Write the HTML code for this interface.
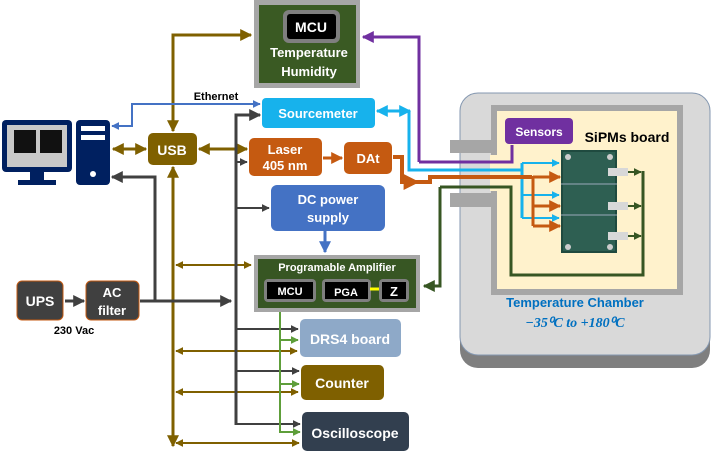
<!DOCTYPE html>
<html><head><meta charset="utf-8"><style>
body{margin:0;background:#fff}
svg{display:block}
text{font-family:"Liberation Sans",sans-serif;font-weight:bold}
</style></head><body>
<svg width="714" height="458" viewBox="0 0 714 458" xmlns="http://www.w3.org/2000/svg">
<defs>
<marker id="ab" viewBox="0 0 10 10" refX="9" refY="5" markerWidth="4" markerHeight="4" orient="auto-start-reverse"><path d="M0,0L10,5L0,10z" fill="#7f6000"/></marker>
<marker id="ag" viewBox="0 0 10 10" refX="9" refY="5" markerWidth="4" markerHeight="4" orient="auto-start-reverse"><path d="M0,0L10,5L0,10z" fill="#404040"/></marker>
<marker id="ablu" viewBox="0 0 10 10" refX="9" refY="5" markerWidth="4" markerHeight="4" orient="auto-start-reverse"><path d="M0,0L10,5L0,10z" fill="#4472c4"/></marker>
<marker id="ac" viewBox="0 0 10 10" refX="9" refY="5" markerWidth="4" markerHeight="4" orient="auto-start-reverse"><path d="M0,0L10,5L0,10z" fill="#17b2ec"/></marker>
<marker id="ao" viewBox="0 0 10 10" refX="9" refY="5" markerWidth="4" markerHeight="4" orient="auto-start-reverse"><path d="M0,0L10,5L0,10z" fill="#c55a11"/></marker>
<marker id="adg" viewBox="0 0 10 10" refX="9" refY="5" markerWidth="4" markerHeight="4" orient="auto-start-reverse"><path d="M0,0L10,5L0,10z" fill="#375623"/></marker>
<marker id="alg" viewBox="0 0 10 10" refX="9" refY="5" markerWidth="4" markerHeight="4" orient="auto-start-reverse"><path d="M0,0L10,5L0,10z" fill="#5e9e3a"/></marker>
<marker id="ap" viewBox="0 0 10 10" refX="9" refY="5" markerWidth="4" markerHeight="4" orient="auto-start-reverse"><path d="M0,0L10,5L0,10z" fill="#7030a0"/></marker>
</defs>

<!-- Temperature chamber -->
<rect x="460" y="106" width="250" height="262" rx="18" fill="#7f7f7f"/>
<rect x="460" y="93" width="250" height="262" rx="18" fill="#d9d9d9" stroke="#8497b0" stroke-width="1"/>
<rect x="494" y="108" width="186" height="184" fill="#fff2cc" stroke="#a6a6a6" stroke-width="6"/>
<rect x="450" y="140" width="47" height="13" fill="#a6a6a6"/>
<rect x="450" y="193" width="47" height="14" fill="#a6a6a6"/>
<rect x="490" y="155" width="8" height="36" fill="#fff2cc"/>
<text x="575" y="307" font-size="13" fill="#0070c0" text-anchor="middle">Temperature Chamber</text>
<text x="575" y="327" font-size="14" fill="#0070c0" text-anchor="middle" style="font-family:'Liberation Serif',serif;font-style:italic">−35⁰C to +180⁰C</text>
<rect x="505" y="118" width="68" height="26" rx="4" fill="#7030a0"/>
<text x="539" y="136" font-size="12" fill="#fff" text-anchor="middle">Sensors</text>
<text x="627" y="142" font-size="14" fill="#000" text-anchor="middle">SiPMs board</text>
<!-- PCB -->
<rect x="561" y="150" width="56" height="103" fill="#1f4a3f"/>
<rect x="563" y="152" width="52" height="99" fill="#2e5f52"/>
<line x1="561" y1="184" x2="617" y2="184" stroke="#9ab" stroke-width="1"/>
<line x1="561" y1="215" x2="617" y2="215" stroke="#9ab" stroke-width="1"/>
<circle cx="568" cy="157" r="3" fill="#ccc"/><circle cx="610" cy="157" r="3" fill="#ccc"/><circle cx="568" cy="247" r="3" fill="#ccc"/><circle cx="610" cy="247" r="3" fill="#ccc"/>
<rect x="608" y="168" width="20" height="8" fill="#d8d8d8"/>
<rect x="608" y="202" width="20" height="8" fill="#d8d8d8"/>
<rect x="608" y="232" width="20" height="8" fill="#d8d8d8"/>

<!-- Top temperature box -->
<rect x="254" y="0" width="106" height="88" fill="#a6a6a6"/>
<rect x="259" y="5" width="97" height="78" fill="#3a5a23"/>
<rect x="283" y="10" width="57" height="33" rx="6" fill="#7f7f7f"/>
<rect x="287" y="14" width="49" height="25" rx="3" fill="#000"/>
<text x="311" y="32" font-size="14" fill="#fff" text-anchor="middle">MCU</text>
<text x="309" y="57" font-size="13" fill="#fff" text-anchor="middle">Temperature</text>
<text x="309" y="76" font-size="13" fill="#fff" text-anchor="middle">Humidity</text>

<text x="216" y="100" font-size="11" fill="#000" text-anchor="middle">Ethernet</text>

<!-- connectors -->
<g fill="none" stroke-width="3">
<!-- brown bus -->
<path d="M173,131 V35 H251" stroke="#7f6000" marker-start="url(#ab)" marker-end="url(#ab)"/>
<path d="M173,167 V446" stroke="#7f6000" marker-start="url(#ab)" marker-end="url(#ab)"/>
<path d="M113,149 H146" stroke="#7f6000" marker-start="url(#ab)" marker-end="url(#ab)"/>
<path d="M199,149 H247" stroke="#7f6000" marker-start="url(#ab)" marker-end="url(#ab)"/>
<path d="M176,265 H251" stroke="#7f6000" stroke-width="2" marker-start="url(#ab)" marker-end="url(#ab)"/>
<path d="M176,351 H297" stroke="#7f6000" stroke-width="2" marker-start="url(#ab)" marker-end="url(#ab)"/>
<path d="M176,392 H298" stroke="#7f6000" stroke-width="2" marker-start="url(#ab)" marker-end="url(#ab)"/>
<path d="M176,443 H299" stroke="#7f6000" stroke-width="2" marker-start="url(#ab)" marker-end="url(#ab)"/>
<!-- ethernet -->
<path d="M112,126 H132 V104 H260" stroke="#4472c4" stroke-width="2" marker-start="url(#ablu)" marker-end="url(#ablu)"/>
<!-- power -->
<path d="M140,301 H231" stroke="#404040" marker-end="url(#ag)"/>
<path d="M155,301 V177 H112" stroke="#404040" marker-end="url(#ag)"/>
<path d="M65,301 H84" stroke="#404040" marker-end="url(#ag)"/>
<path d="M236,425 V115 H260" stroke="#404040" marker-end="url(#ag)"/>
<path d="M236,162 H247" stroke="#404040" stroke-width="2" marker-end="url(#ag)"/>
<path d="M236,208 H269" stroke="#404040" stroke-width="2" marker-end="url(#ag)"/>
<path d="M236,329 H298" stroke="#404040" stroke-width="2" marker-end="url(#ag)"/>
<path d="M236,371 H299" stroke="#404040" stroke-width="2" marker-end="url(#ag)"/>
<path d="M236,424 H300" stroke="#404040" stroke-width="2" marker-end="url(#ag)"/>
<!-- DC to amp -->
<path d="M325,231 V252" stroke="#4472c4" marker-end="url(#ablu)"/>
<!-- green from MCU -->
<path d="M280,304 V432 H300" stroke="#5e9e3a" stroke-width="2" marker-end="url(#alg)"/>
<path d="M280,340 H298" stroke="#5e9e3a" stroke-width="2" marker-end="url(#alg)"/>
<path d="M280,384 H299" stroke="#5e9e3a" stroke-width="2" marker-end="url(#alg)"/>
<!-- laser to DAt -->
<path d="M323,158 H342" stroke="#c55a11" marker-end="url(#ao)"/>
<!-- purple -->
<path d="M419,162 H512 V145" stroke="#7030a0"/>
<path d="M419,162 V37 H363" stroke="#7030a0" marker-end="url(#ap)"/>
<!-- cyan -->
<path d="M377,111 H410" stroke="#17b2ec" marker-start="url(#ac)" marker-end="url(#ac)"/>
<path d="M409,111 V170 H522" stroke="#17b2ec"/>
<path d="M522,163 V218" stroke="#17b2ec"/>
<path d="M522,163 H559" stroke="#17b2ec" stroke-width="2" marker-end="url(#ac)"/>
<path d="M522,195 H559" stroke="#17b2ec" stroke-width="2" marker-end="url(#ac)"/>
<path d="M522,218 H559" stroke="#17b2ec" stroke-width="2" marker-end="url(#ac)"/>
<!-- orange -->
<path d="M393,157 H402 V182 H418" stroke="#c55a11" stroke-width="4" marker-end="url(#ao)"/>
<path d="M417,182 H430 V177 H532" stroke="#c55a11" stroke-width="4"/>
<path d="M533,176 V226" stroke="#c55a11" stroke-width="3"/>
<path d="M533,177 H560" stroke="#c55a11" stroke-width="3" marker-end="url(#ao)"/>
<path d="M533,206 H560" stroke="#c55a11" stroke-width="3" marker-end="url(#ao)"/>
<path d="M533,226 H560" stroke="#c55a11" stroke-width="3" marker-end="url(#ao)"/>
<!-- dark green -->
<path d="M440,187 V286 H424" stroke="#375623" marker-end="url(#adg)"/>
<path d="M440,187 H511 V275 H643 V171" stroke="#375623"/>
<path d="M628,172 H641" stroke="#375623" stroke-width="2" marker-end="url(#adg)"/>
<path d="M628,206 H641" stroke="#375623" stroke-width="2" marker-end="url(#adg)"/>
<path d="M628,236 H641" stroke="#375623" stroke-width="2" marker-end="url(#adg)"/>
</g>

<!-- PC -->
<rect x="2" y="120" width="70" height="52" rx="4" fill="#002060"/>
<rect x="7" y="125" width="60" height="42" fill="#c8c8c8"/>
<rect x="14" y="130" width="22" height="23" fill="#111"/><rect x="40" y="130" width="22" height="23" fill="#111"/>
<rect x="30" y="172" width="14" height="8" fill="#002060"/>
<rect x="18" y="180" width="38" height="5" fill="#002060"/>
<rect x="76" y="120" width="34" height="65" rx="4" fill="#002060"/>
<rect x="81" y="126" width="24" height="5" fill="#fff"/><rect x="81" y="135" width="24" height="5" fill="#fff"/>
<circle cx="93" cy="174" r="3" fill="#fff"/>

<!-- USB -->
<rect x="148" y="133" width="49" height="32" rx="5" fill="#7f6000"/>
<text x="172" y="155" font-size="14" fill="#fff" text-anchor="middle">USB</text>

<!-- UPS AC -->
<rect x="17" y="281" width="46" height="39" rx="5" fill="#404040" stroke="#c55a11" stroke-width="1"/>
<text x="40" y="306" font-size="14" fill="#fff" text-anchor="middle">UPS</text>
<rect x="86" y="281" width="53" height="39" rx="5" fill="#404040" stroke="#c55a11" stroke-width="1"/>
<text x="112" y="297" font-size="13" fill="#fff" text-anchor="middle">AC</text>
<text x="112" y="315" font-size="13" fill="#fff" text-anchor="middle">filter</text>
<text x="74" y="334" font-size="11" fill="#000" text-anchor="middle">230 Vac</text>

<!-- instruments -->
<rect x="262" y="98" width="113" height="30" rx="4" fill="#17b2ec"/>
<text x="318" y="118" font-size="13" fill="#fff" text-anchor="middle">Sourcemeter</text>
<rect x="249" y="138" width="73" height="38" rx="5" fill="#c55a11"/>
<text x="285" y="154" font-size="13" fill="#fff" text-anchor="middle">Laser</text>
<text x="285" y="170" font-size="13" fill="#fff" text-anchor="middle">405 nm</text>
<rect x="344" y="142" width="48" height="32" rx="5" fill="#c55a11"/>
<text x="368" y="163" font-size="13" fill="#fff" text-anchor="middle">DAt</text>
<rect x="271" y="185" width="114" height="46" rx="6" fill="#4472c4"/>
<text x="328" y="204" font-size="13" fill="#fff" text-anchor="middle">DC power</text>
<text x="328" y="222" font-size="13" fill="#fff" text-anchor="middle">supply</text>

<rect x="254" y="255" width="166" height="57" fill="#a6a6a6"/>
<rect x="258" y="259" width="158" height="49" fill="#375623"/>
<text x="337" y="271" font-size="11" fill="#fff" text-anchor="middle">Programable Amplifier</text>
<rect x="264" y="279" width="52" height="23" rx="4" fill="#7f7f7f"/><rect x="267" y="282" width="46" height="17" fill="#000"/>
<text x="290" y="295" font-size="11" fill="#fff" text-anchor="middle">MCU</text>
<rect x="322" y="279" width="49" height="23" rx="4" fill="#7f7f7f"/><rect x="325" y="282" width="43" height="17" fill="#000"/>
<text x="346" y="296" font-size="11" fill="#fff" text-anchor="middle">PGA</text>
<line x1="370" y1="289" x2="380" y2="289" stroke="#ffff00" stroke-width="3"/>
<rect x="379" y="279" width="30" height="23" rx="4" fill="#7f7f7f"/><rect x="382" y="282" width="24" height="17" fill="#000"/>
<text x="394" y="296" font-size="13" fill="#fff" text-anchor="middle">Z</text>

<rect x="300" y="319" width="101" height="38" rx="5" fill="#8ea9c8"/>
<text x="350" y="344" font-size="14" fill="#fff" text-anchor="middle">DRS4 board</text>
<rect x="301" y="365" width="83" height="35" rx="5" fill="#7f6000"/>
<text x="342" y="388" font-size="14" fill="#fff" text-anchor="middle">Counter</text>
<rect x="302" y="412" width="107" height="39" rx="5" fill="#323f4f"/>
<text x="355" y="438" font-size="14" fill="#fff" text-anchor="middle">Oscilloscope</text>
</svg>
</body></html>
